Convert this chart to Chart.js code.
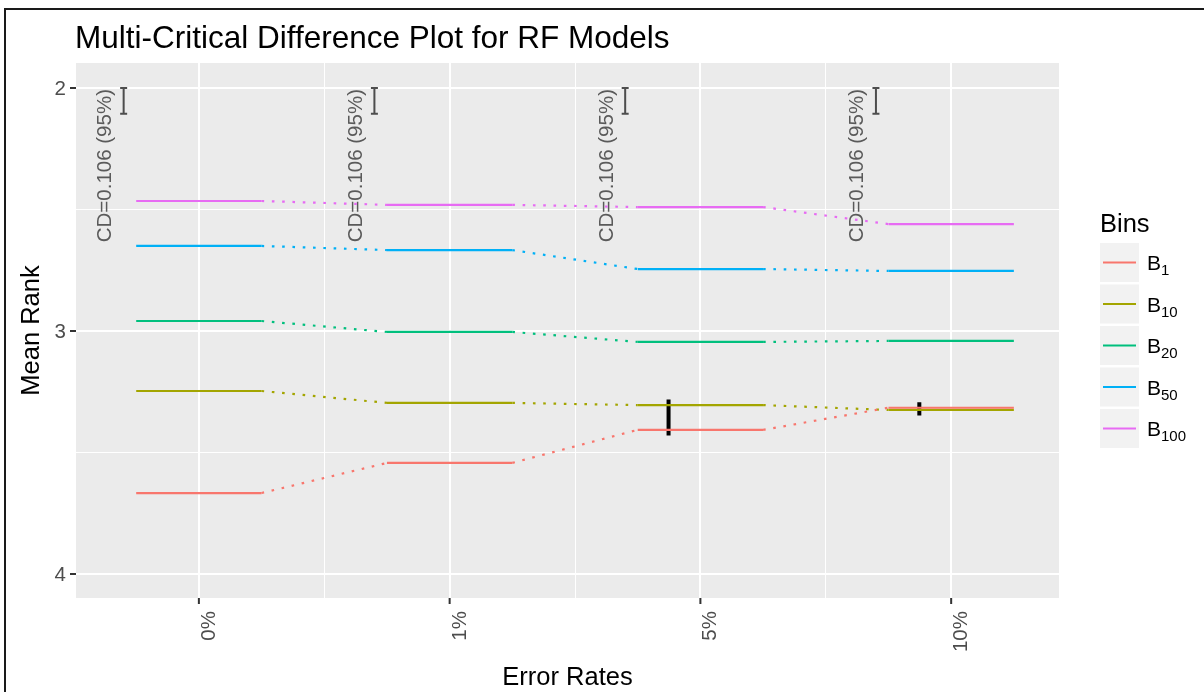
<!DOCTYPE html>
<html>
<head>
<meta charset="utf-8">
<title>Multi-Critical Difference Plot for RF Models</title>
<script src="https://cdn.jsdelivr.net/npm/chart.js@4.4.1/dist/chart.umd.min.js"></script>
<style>
  html, body { margin: 0; padding: 0; background: #ffffff; }
  canvas { display: block; }
</style>
</head>
<body>
<canvas id="cd" width="1204" height="692"></canvas>
<script>
// Error-rate groups along the x axis
const categories = ['0%', '1%', '5%', '10%'];
// Bin counts (shown as subscripts of B)
const binNames = ['1', '10', '20', '50', '100'];
// Mean rank of each bin setting per error rate
const rankB1   = [3.667, 3.543, 3.407, 3.316];
const rankB10  = [3.247, 3.296, 3.305, 3.325];
const rankB20  = [2.959, 3.004, 3.045, 3.041];
const rankB50  = [2.650, 2.667, 2.745, 2.753];
const rankB100 = [2.465, 2.481, 2.490, 2.560];
// Critical difference of the Nemenyi test
const criticalDifference = 0.106;
const cdLabel = 'CD=0.106 (95%)';
const yTickValues = [2, 3, 4];
// Groups whose ranks do not differ significantly: [error-rate index, bin indices]
const cliques = [[2, [0, 1]], [3, [0, 1]]];

const rankSeries = [rankB1, rankB10, rankB20, rankB50, rankB100];
const binColors = ['#F8766D', '#A3A500', '#00BF7D', '#00B0F6', '#E76BF3'];
const HALF = 0.25;          // half width of each rank segment (x units)
const CLIQUE_X = -0.127;    // clique bar offset from the group centre
const CLIQUE_PAD = 0.023;   // clique bar overhang past its members
const CD_X = -0.3;          // CD error bar offset
const CD_TEXT_X = -0.35;    // CD label baseline offset
const FONT = '"Liberation Sans", Arial, Helvetica, sans-serif';

const datasets = rankSeries.map((vals, k) => ({
  label: 'B' + binNames[k],
  data: vals.flatMap((v, i) => [{ x: i - HALF, y: v }, { x: i + HALF, y: v }]),
  borderColor: binColors[k],
  backgroundColor: binColors[k],
  borderWidth: 2.2,
  pointRadius: 0,
  showLine: true,
  fill: false,
  tension: 0,
  segment: {
    // links between neighbouring error rates are dotted
    borderDash: ctx => (ctx.p0DataIndex % 2 === 1 ? [2.6, 7.7] : undefined)
  }
}));

cliques.forEach(([ci, members]) => {
  const vals = members.map(m => rankSeries[m][ci]);
  datasets.push({
    label: 'clique',
    data: [
      { x: ci + CLIQUE_X, y: Math.min(...vals) - CLIQUE_PAD },
      { x: ci + CLIQUE_X, y: Math.max(...vals) + CLIQUE_PAD }
    ],
    borderColor: '#000000',
    borderWidth: 4,
    pointRadius: 0,
    showLine: true,
    fill: false
  });
});

const panelBackground = {
  id: 'panelBackground',
  beforeDraw(chart) {
    const { ctx, chartArea: a } = chart;
    ctx.save();
    ctx.fillStyle = '#ffffff';
    ctx.fillRect(0, 0, chart.width, chart.height);
    ctx.fillStyle = '#EBEBEB';
    ctx.fillRect(a.left, a.top, a.right - a.left, a.bottom - a.top);
    ctx.restore();
  }
};

const cdAnnotations = {
  id: 'cdAnnotations',
  beforeDatasetsDraw(chart) {
    const { ctx, scales: { x, y } } = chart;
    ctx.save();
    categories.forEach((c, i) => {
      // rotated CD label
      ctx.save();
      ctx.translate(x.getPixelForValue(i + CD_TEXT_X), y.getPixelForValue(2) + 1);
      ctx.rotate(-Math.PI / 2);
      ctx.font = '20.5px ' + FONT;
      ctx.fillStyle = '#5a5a5a';
      ctx.textAlign = 'right';
      ctx.textBaseline = 'alphabetic';
      ctx.fillText(cdLabel, 0, 0);
      ctx.restore();
      // CD error bar
      const px = x.getPixelForValue(i + CD_X);
      const y0 = y.getPixelForValue(2);
      const y1 = y.getPixelForValue(2 + criticalDifference);
      ctx.strokeStyle = '#4D4D4D';
      ctx.lineWidth = 2;
      ctx.beginPath();
      ctx.moveTo(px, y0); ctx.lineTo(px, y1);
      ctx.moveTo(px - 3.5, y0); ctx.lineTo(px + 3.5, y0);
      ctx.moveTo(px - 3.5, y1); ctx.lineTo(px + 3.5, y1);
      ctx.stroke();
    });
    ctx.restore();
  }
};

const axesAndLegend = {
  id: 'axesAndLegend',
  afterDraw(chart) {
    const { ctx, chartArea: a, scales: { x, y } } = chart;
    ctx.save();

    // tick marks
    ctx.strokeStyle = '#333333';
    ctx.lineWidth = 2;
    ctx.beginPath();
    yTickValues.forEach(v => {
      const py = y.getPixelForValue(v);
      ctx.moveTo(a.left - 6, py); ctx.lineTo(a.left, py);
    });
    categories.forEach((c, i) => {
      const px = x.getPixelForValue(i);
      ctx.moveTo(px, a.bottom); ctx.lineTo(px, a.bottom + 6);
    });
    ctx.stroke();

    // tick labels
    ctx.fillStyle = '#4D4D4D';
    ctx.font = '20.5px ' + FONT;
    ctx.textAlign = 'right';
    ctx.textBaseline = 'middle';
    yTickValues.forEach(v => ctx.fillText(String(v), a.left - 10, y.getPixelForValue(v) + 1));
    categories.forEach((c, i) => {
      ctx.save();
      ctx.translate(x.getPixelForValue(i) + 16, a.bottom + 13);
      ctx.rotate(-Math.PI / 2);
      ctx.textAlign = 'right';
      ctx.textBaseline = 'alphabetic';
      ctx.fillText(c, 0, 0);
      ctx.restore();
    });

    // titles
    ctx.fillStyle = '#000000';
    ctx.font = '31.5px ' + FONT;
    ctx.textAlign = 'left';
    ctx.textBaseline = 'alphabetic';
    ctx.fillText('Multi-Critical Difference Plot for RF Models', 75, 48);

    ctx.font = '25.5px ' + FONT;
    ctx.textAlign = 'center';
    ctx.fillText('Error Rates', (a.left + a.right) / 2, 685);
    ctx.save();
    ctx.translate(39, (a.top + a.bottom) / 2);
    ctx.rotate(-Math.PI / 2);
    ctx.fillText('Mean Rank', 0, 0);
    ctx.restore();

    // legend
    ctx.textAlign = 'left';
    ctx.fillText('Bins', 1100, 232);
    binNames.forEach((b, k) => {
      const top = 243 + k * 41.5;
      const cy = top + 19.5;
      ctx.fillStyle = '#F2F2F2';
      ctx.fillRect(1100, top, 39, 39);
      ctx.strokeStyle = binColors[k];
      ctx.lineWidth = 2.2;
      ctx.beginPath();
      ctx.moveTo(1103, cy); ctx.lineTo(1136, cy);
      ctx.stroke();
      ctx.fillStyle = '#000000';
      ctx.font = '21px ' + FONT;
      ctx.fillText('B', 1147, cy + 7.5);
      const w = ctx.measureText('B').width;
      ctx.font = '15px ' + FONT;
      ctx.fillText(b, 1147 + w, cy + 12.5);
    });

    // frame
    ctx.strokeStyle = '#1a1a1a';
    ctx.lineWidth = 2;
    ctx.beginPath();
    ctx.moveTo(5, 692); ctx.lineTo(5, 9); ctx.lineTo(1204, 9);
    ctx.stroke();

    ctx.restore();
  }
};

const gridWidth = c => (c.tick && c.tick.value % 1 === 0 ? 2 : 1);

new Chart(document.getElementById('cd'), {
  type: 'scatter',
  data: { datasets },
  plugins: [panelBackground, cdAnnotations, axesAndLegend],
  options: {
    responsive: false,
    animation: false,
    events: [],
    layout: { padding: { top: 63, right: 145, bottom: 0, left: 0 } },
    plugins: { legend: { display: false }, tooltip: { enabled: false }, title: { display: false } },
    scales: {
      x: {
        type: 'linear',
        min: -0.49,
        max: 3.43,
        afterFit: s => { s.height = 94; },
        afterBuildTicks: s => { s.ticks = [0, 0.5, 1, 1.5, 2, 2.5, 3].map(v => ({ value: v })); },
        ticks: { display: false },
        grid: { color: '#ffffff', lineWidth: gridWidth, drawTicks: false },
        border: { display: false }
      },
      y: {
        type: 'linear',
        reverse: true,
        min: 1.897,
        max: 4.099,
        afterFit: s => { s.width = 76; },
        afterBuildTicks: s => { s.ticks = [2, 2.5, 3, 3.5, 4].map(v => ({ value: v })); },
        ticks: { display: false },
        grid: { color: '#ffffff', lineWidth: gridWidth, drawTicks: false },
        border: { display: false }
      }
    }
  }
});
</script>
</body>
</html>
